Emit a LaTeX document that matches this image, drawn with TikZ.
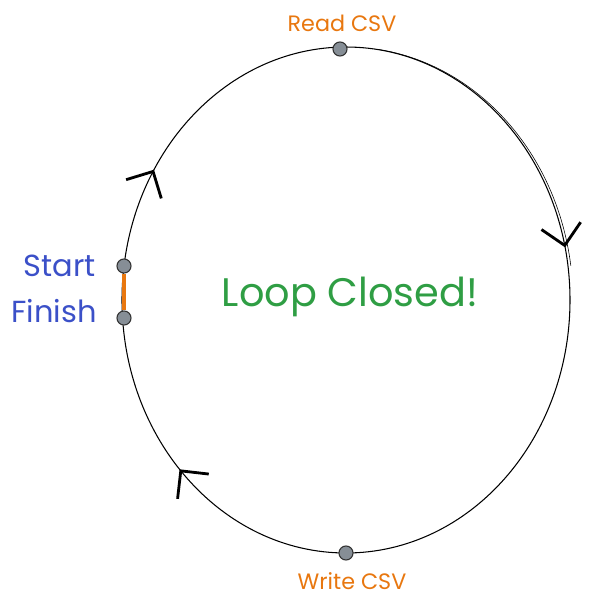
\documentclass[tikz,border=0pt]{standalone}
\usepackage{fontspec}
\setmainfont{Poppins}
\usetikzlibrary{arrows.meta}
\definecolor{csvorange}{HTML}{E8770F}
\definecolor{endblue}{HTML}{3B50C8}
\definecolor{loopgreen}{HTML}{2F9E44}
\definecolor{dotgray}{HTML}{868E96}
\begin{document}
\begin{tikzpicture}[x=0.03cm, y=-0.03cm,
  dot/.style={circle, fill=dotgray, draw=black!80, line width=0.9pt, minimum size=12pt, inner sep=0pt},
  csv/.style={text=csvorange, font=\fontsize{19}{22}\selectfont},
  ends/.style={text=endblue, font=\fontsize{26}{30}\selectfont},
  flow/.style={line width=0.5pt, -{Straight Barb[length=17pt, width=34pt, line width=2.4pt]}}]
\useasboundingbox (0,0) rectangle (590,610);

\draw[line width=0.9pt] (346,300) ellipse[x radius=224, y radius=253];
\draw[line width=0.5pt] (347,301) ++(278:226 and 254) arc[start angle=278, end angle=352, x radius=226, y radius=254];

\draw[flow] (346,300) ++(210:224 and 253) arc[start angle=210, end angle=211, x radius=224, y radius=253];
\draw[flow] (346,300) ++(347:224 and 253) arc[start angle=347, end angle=348, x radius=224, y radius=253];
\draw[flow] (346,300) ++(137:224 and 253) arc[start angle=137, end angle=138, x radius=224, y radius=253];

\node[dot] (start) at (124,266) {};
\node[dot] (finish) at (124,318) {};
\draw[csvorange, line width=3pt] (start) -- (finish);

\node[dot] (read) at (340,49) {};
\node[dot] (write) at (346,553) {};

\node[csv] (readlabel) at (342,23) {Read CSV};
\node[csv] (writelabel) at (352,581) {Write CSV};
\node[ends] (startlabel) at (60,266) {Start};
\node[ends] (finishlabel) at (54,311) {Finish};
\node[text=loopgreen, font=\fontsize{34}{40}\selectfont] (closed) at (350,297) {Loop Closed!};
\end{tikzpicture}
\end{document}
